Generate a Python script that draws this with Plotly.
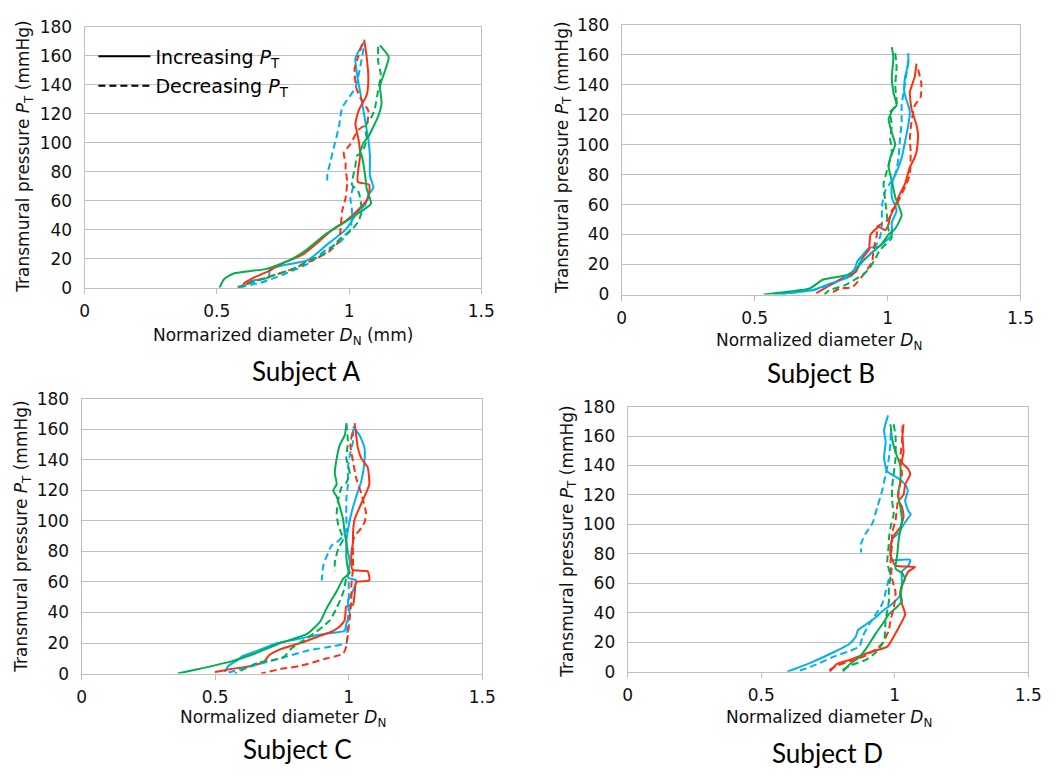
import plotly.graph_objects as go
from plotly.subplots import make_subplots

BLUE = "#00B0F0"
RED = "#FF3010"
GREEN = "#00B050"

# ---------------- Subject A ----------------
a_red_inc_dn = [0.597, 0.603, 0.64, 0.702, 0.751, 0.826, 0.887, 0.937, 0.987, 1.036, 1.073, 1.076, 1.033, 1.042, 1.042, 1.036, 1.024, 1.036, 1.067, 1.073, 1.066, 1.057]
a_red_inc_pt = [0, 3, 7, 12, 17, 23, 32, 40, 46, 54, 62, 71, 73, 91, 93, 102, 113, 122, 133, 144, 160, 171]
a_green_inc_dn = [0.51, 0.528, 0.566, 0.689, 0.776, 0.838, 0.912, 0.974, 1.024, 1.083, 1.067, 1.061, 1.048, 1.042, 1.055, 1.073, 1.092, 1.11, 1.123, 1.117, 1.135, 1.15, 1.117]
a_green_inc_pt = [0, 6, 10, 13, 19, 26, 37, 44, 50, 58, 68, 77, 91, 93, 100, 104, 111, 118, 127, 139, 149, 159, 167]
a_blue_inc_dn = [0.603, 0.628, 0.696, 0.702, 0.844, 0.912, 0.987, 1.036, 1.061, 1.073, 1.092, 1.079, 1.079, 1.073, 1.061, 1.046, 1.033, 1.024, 1.055]
a_blue_inc_pt = [1, 4.5, 7, 13, 19, 29, 40, 53, 57, 64, 69, 77, 91, 102, 115, 131, 144, 158, 169]
a_blue_dec_dn = [1.055, 1.04, 1.024, 0.974, 0.962, 0.947, 0.931, 0.918, 0.918, None, 1.017, 1.005, 1.011, 1.005, 0.962, 0.912, 0.85, 0.751, 0.665, 0.578]
a_blue_dec_pt = [165, 150, 138, 124, 111, 100, 88, 78, 72, None, 70, 62, 53, 40, 31, 26, 17, 9, 3.4, 0]
a_green_dec_dn = [1.11, 1.11, 1.12, 1.11, 1.098, 1.086, 1.061, 1.067, 1.048, 1.03, 1.024, 1.011, 1.036, 1.048, 1.036, 1.011, 0.974, 0.912, 0.85, 0.788, 0.689, 0.59, 0.566]
a_green_dec_pt = [166, 156, 147, 136, 124, 118, 111, 102, 93, 91, 84, 71, 66, 53, 46, 40, 35, 24, 19, 13, 7, 1, 0]
a_red_dec_dn = [1.05, 1.036, 1.021, 1.027, 1.048, 1.073, 1.067, 1.036, 1.005, 0.98, 0.987, 0.987, 0.993, 0.987, 0.974, 0.968, 0.962, 0.925, 0.863, 0.788, 0.689, 0.603, 0.58]
a_red_dec_pt = [168, 160, 151, 138, 129, 122, 113, 109, 99, 93, 86, 82, 73, 62, 53, 41, 32, 25, 19, 13, 7, 2, 0]

# ---------------- Subject B ----------------
b_green_inc_dn = [0.534, 0.584, 0.707, 0.757, 0.849, 0.88, 0.917, 0.942, 0.979, 1.004, 1.029, 1.053, 1.029, 1.016, 1.004, 1.01, 1.029, 1.016, 1.004, 1.022, 1.034, 1.022, 1.016, 1.022, 1.016]
b_green_inc_pt = [0, 1, 4, 10, 13, 17, 24, 28, 34, 40, 44, 53, 65, 76, 85, 91, 100, 108, 117, 124, 126, 135, 145, 158, 165]
b_blue_inc_dn = [0.571, 0.72, 0.781, 0.868, 0.886, 0.905, 0.93, 0.967, 1.016, 1.016, 1.034, 1.016, 1.016, 1.041, 1.053, 1.066, 1.078, 1.084, 1.063, 1.066, 1.078, 1.078]
b_blue_inc_pt = [0, 3, 7, 13, 22, 26, 31, 32, 40, 48, 56, 65, 74, 85, 91, 102, 113, 122, 135, 145, 154, 161]
b_red_inc_dn = [0.732, 0.781, 0.831, 0.88, 0.905, 0.93, 0.936, 0.967, 0.991, 1.004, 1.01, 1.029, 1.041, 1.066, 1.084, 1.096, 1.109, 1.115, 1.109, 1.09, 1.084, 1.102, 1.109]
b_red_inc_pt = [1, 6, 11, 15, 24, 30, 40, 45, 43, 47, 52, 59, 65, 74, 85, 89, 95, 106, 113, 124, 135, 145, 154]
b_green_dec_dn = [1.029, 1.034, 1.029, 1.034, 1.01, 1.016, 1.01, 1.016, 0.997, 0.985, 0.991, 0.997, 1.004, 1.016, 0.973, 0.954, 0.93, 0.905, 0.837, 0.781, 0.763]
b_green_dec_pt = [161, 152, 139, 126, 122, 113, 104, 95, 82, 74, 63, 54, 43, 38, 30, 24, 17, 13, 6, 3, 0]
b_blue_dec_dn = [1.078, 1.066, 1.053, 1.053, 1.047, 1.041, 1.029, 0.991, 0.979, 0.979, 0.973, 0.954, 0.93, 0.899, 0.868, 0.794, 0.72, 0.633, 0.6]
b_blue_dec_pt = [156, 141, 126, 115, 104, 91, 80, 69, 59, 48, 39, 32, 26, 22, 15, 7, 3, 1, 0]
b_red_dec_dn = [1.115, 1.127, 1.125, 1.102, 1.09, 1.084, 1.087, 1.084, 1.072, 1.053, 1.034, 1.016, 1.004, 0.96, 0.96, 0.948, 0.942, 0.917, 0.868, 0.819, 0.781]
b_red_dec_pt = [150, 141, 132, 126, 115, 104, 95, 80, 74, 67, 60, 56, 50, 45, 40, 31, 22, 15, 5, 4, 0]

# ---------------- Subject C ----------------
c_green_inc_dn = [0.36, 0.438, 0.561, 0.647, 0.745, 0.844, 0.893, 0.918, 0.955, 0.979, 1.004, 0.997, 0.991, 0.991, 0.985, 0.979, 0.967, 0.955, 0.942, 0.955, 0.948, 0.955, 0.967, 0.985, 0.991]
c_green_inc_pt = [0, 3, 8, 13, 20, 26, 34, 43, 54, 62, 66, 69, 77, 86, 92, 101, 109, 116, 120, 124, 131, 141, 150, 156, 163]
c_blue_inc_dn = [0.536, 0.549, 0.585, 0.598, 0.659, 0.733, 0.819, 0.905, 0.985, 0.991, 1.004, 0.997, 1.01, 1.028, 0.997, 1.004, 0.991, 0.997, 1.01, 1.028, 1.047, 1.059, 1.059, 1.041, 1.016]
c_blue_inc_pt = [1, 5, 9, 11, 15, 20, 23, 26, 28, 33, 38, 48, 52, 61, 63, 73, 86, 94, 105, 116, 126, 139, 148, 156, 162]
c_red_inc_dn = [0.499, 0.561, 0.635, 0.684, 0.702, 0.745, 0.819, 0.881, 0.942, 0.967, 0.985, 0.991, 1.016, 1.022, 1.028, 1.077, 1.071, 1.014, 1.01, 1.016, 1.016, 1.022, 1.041, 1.059, 1.077, 1.071, 1.047, 1.034, 1.028, 1.022]
c_red_inc_pt = [1, 3, 5, 8, 12, 16, 20, 24, 28, 31, 35, 44, 45, 52, 60, 61, 67, 68, 79, 86, 92, 101, 109, 116, 124, 135, 141, 148, 156, 164]
c_green_dec_dn = [0.991, 0.997, 0.991, 1.004, 0.991, 0.973, 0.961, 0.955, 0.961, 0.979, 0.961, 0.948, 0.948, None, 0.99, 0.979, 0.955, 0.93, 0.905, 0.868, 0.782, 0.758, 0.721, 0.659, 0.573]
c_green_dec_pt = [164, 152, 141, 131, 125, 122, 114, 105, 97, 88, 82, 73, 67, None, 62, 53, 43, 35, 31, 26, 16, 11, 9, 7, 0]
c_blue_dec_dn = [1.016, 1.016, 1.004, 0.997, 0.997, 0.991, 0.991, 0.991, 0.979, 0.955, 0.936, 0.918, 0.905, 0.899, None, 1.0, 1.0, 0.995, 0.991, 0.942, 0.844, 0.745, 0.659, 0.598, 0.536]
c_blue_dec_pt = [160, 152, 143, 135, 124, 114, 103, 94, 90, 86, 84, 77, 71, 61, None, 60, 45, 30, 20, 18, 15, 10, 6, 3, 0]
c_red_dec_dn = [1.014, 1.006, 1.016, 1.028, 1.047, 1.065, 1.059, 1.041, 1.022, 1.016, 1.016, 1.016, 1.01, 1.01, 1.004, 0.997, 0.991, 0.979, 0.918, 0.819, 0.745, 0.672]
c_red_dec_pt = [158, 150, 139, 128, 118, 105, 99, 94, 90, 86, 77, 69, 58, 48, 37, 26, 18, 13, 10, 5, 3, 0]

# ---------------- Subject D ----------------
d_blue_inc_dn = [0.598, 0.684, 0.769, 0.831, 0.855, 0.862, 0.892, 0.929, 0.953, 0.99, 1.021, 1.027, 1.027, 1.051, 1.058, 0.99, 0.984, 0.99, 1.015, 1.027, 1.045, 1.06, 1.051, 1.039, 1.049, 1.039, 1.015, 0.972, 0.96, 0.966, 0.96, 0.975]
d_blue_inc_pt = [0, 6, 13, 19, 24, 28, 32, 37, 41, 46, 52, 59, 68, 72, 76, 76, 83, 90, 94, 98, 103, 107, 109, 116, 123, 127, 131, 136, 145, 156, 164, 174]
d_red_inc_dn = [0.757, 0.782, 0.831, 0.904, 0.972, 1.003, 1.021, 1.039, 1.027, 1.021, 1.033, 1.051, 1.076, 1.003, 0.984, 0.99, 1.003, 1.021, 1.033, 1.027, 1.015, 1.033, 1.039, 1.058, 1.049, 1.027, 1.033, 1.029, 1.033]
d_red_inc_pt = [0, 5, 8, 13, 17, 26, 32, 39, 46, 54, 61, 68, 71, 72, 79, 90, 94, 98, 105, 112, 116, 120, 127, 134, 138, 142, 149, 160, 168]
d_green_inc_dn = [0.806, 0.831, 0.868, 0.898, 0.929, 0.953, 0.978, 1.003, 1.027, 1.021, 1.027, 1.039, 1.027, 1.003, 1.009, 1.015, 1.021, 1.027, 1.021, 1.012, 1.021, 1.021, 1.003, 0.99, 0.984]
d_green_inc_pt = [0, 5, 10, 17, 26, 32, 39, 43, 48, 53, 59, 63, 67, 70, 79, 90, 96, 103, 112, 120, 129, 140, 149, 158, 168]
d_blue_dec_dn = [0.985, 0.984, 0.978, 0.966, 0.953, 0.935, 0.917, 0.892, 0.874, 0.874, None, 0.99, 0.978, 0.966, 0.953, 0.929, 0.904, 0.88, 0.868, 0.831, 0.769, 0.708, 0.635]
d_blue_dec_pt = [162, 156, 145, 134, 123, 112, 101, 94, 87, 81, None, 70, 63, 54, 46, 39, 32, 24, 17, 14, 10, 5, 0]
d_green_dec_dn = [0.996, 1.003, 1.003, 0.996, 0.99, 0.99, 0.996, 0.984, 0.978, 0.978, 0.972, 0.984, 0.978, 0.978, 0.966, 0.96, 0.929, 0.892, 0.831, 0.794]
d_green_dec_pt = [168, 160, 145, 134, 125, 116, 107, 98, 90, 87, 74, 65, 57, 48, 35, 21, 13, 8, 4, 0]
d_red_dec_dn = [1.029, 1.027, 1.021, 1.027, 1.015, 1.009, 1.003, 0.99, 0.99, 0.984, 0.99, 1.003, 0.996, 0.984, 0.978, 0.953, 0.929, 0.88, 0.831, 0.782, 0.745]
d_red_dec_pt = [167, 156, 145, 134, 123, 112, 103, 94, 87, 74, 63, 54, 43, 35, 28, 19, 15, 10, 7, 4, 0]

x_ticks = [0, 0.5, 1, 1.5]
x_tick_text = ["0", "0.5", "1", "1.5"]
y_ticks = [0, 20, 40, 60, 80, 100, 120, 140, 160, 180]

panels = [
    (1, 1, [
        (a_blue_inc_dn, a_blue_inc_pt, BLUE, "solid"),
        (a_red_inc_dn, a_red_inc_pt, RED, "solid"),
        (a_green_inc_dn, a_green_inc_pt, GREEN, "solid"),
        (a_blue_dec_dn, a_blue_dec_pt, BLUE, "dash"),
        (a_red_dec_dn, a_red_dec_pt, RED, "dash"),
        (a_green_dec_dn, a_green_dec_pt, GREEN, "dash"),
    ]),
    (1, 2, [
        (b_blue_inc_dn, b_blue_inc_pt, BLUE, "solid"),
        (b_red_inc_dn, b_red_inc_pt, RED, "solid"),
        (b_green_inc_dn, b_green_inc_pt, GREEN, "solid"),
        (b_blue_dec_dn, b_blue_dec_pt, BLUE, "dash"),
        (b_red_dec_dn, b_red_dec_pt, RED, "dash"),
        (b_green_dec_dn, b_green_dec_pt, GREEN, "dash"),
    ]),
    (2, 1, [
        (c_blue_inc_dn, c_blue_inc_pt, BLUE, "solid"),
        (c_red_inc_dn, c_red_inc_pt, RED, "solid"),
        (c_green_inc_dn, c_green_inc_pt, GREEN, "solid"),
        (c_blue_dec_dn, c_blue_dec_pt, BLUE, "dash"),
        (c_red_dec_dn, c_red_dec_pt, RED, "dash"),
        (c_green_dec_dn, c_green_dec_pt, GREEN, "dash"),
    ]),
    (2, 2, [
        (d_blue_inc_dn, d_blue_inc_pt, BLUE, "solid"),
        (d_red_inc_dn, d_red_inc_pt, RED, "solid"),
        (d_green_inc_dn, d_green_inc_pt, GREEN, "solid"),
        (d_blue_dec_dn, d_blue_dec_pt, BLUE, "dash"),
        (d_red_dec_dn, d_red_dec_pt, RED, "dash"),
        (d_green_dec_dn, d_green_dec_pt, GREEN, "dash"),
    ]),
]

W, H = 1059, 782
fig = make_subplots(rows=2, cols=2)

for row, col, curves in panels:
    for dn, pt, color, dash in curves:
        fig.add_trace(
            go.Scatter(
                x=dn, y=pt, mode="lines",
                line=dict(color=color, width=2, dash="7px,4px" if dash == "dash" else "solid",
                          shape="spline", smoothing=0.5),
                connectgaps=False, showlegend=False, hoverinfo="skip",
            ),
            row=row, col=col,
        )

# legend entries for the line styles
fig.add_trace(go.Scatter(x=[None], y=[None], mode="lines", line=dict(color="black", width=2),
                         name="Increasing <i>P</i><sub>T</sub>", legendgroup="inc"), row=1, col=1)
fig.add_trace(go.Scatter(x=[None], y=[None], mode="lines", line=dict(color="black", width=2, dash="7px,4px"),
                         name="Decreasing <i>P</i><sub>T</sub>", legendgroup="dec"), row=1, col=1)

# panel placement in pixels: (left, right, top, bottom)
boxes = {
    1: (81, 485, 17, 285),
    2: (628, 1034, 15, 292),
    3: (78, 486, 399, 681),
    4: (634, 1042, 407, 679),
}
TICK_FONT = dict(family="DejaVu Sans", size=17, color="#111111")
GRID = "#BFBFBF"
for i, (l, r, t, b) in boxes.items():
    sfx = "" if i == 1 else str(i)
    fig.layout["xaxis" + sfx].update(
        domain=[l / W, r / W], range=[0, 1.5], tickvals=x_ticks, ticktext=x_tick_text,
        showgrid=False, zeroline=False, showline=True, linecolor=GRID, linewidth=1, mirror=True,
        ticks="outside", ticklen=5, tickcolor=GRID, tickfont=TICK_FONT, ticklabelstandoff=3,
    )
    fig.layout["yaxis" + sfx].update(
        domain=[1 - b / H, 1 - t / H], range=[0, 180], tickvals=y_ticks,
        showgrid=True, gridcolor=GRID, gridwidth=1, zeroline=False, showline=True,
        linecolor=GRID, linewidth=1, mirror=True, ticks="", tickfont=TICK_FONT, ticklabelstandoff=8,
    )

LABEL_FONT = dict(family="DejaVu Sans", size=17, color="#111111")
TITLE_FONT = dict(family="Lato", size=26, color="#000000")
ann = []
x_titles = [
    (283, 335, "Normarized diameter <i>D</i><sub>N</sub> (mm)"),
    (829, 340, "Normalized diameter <i>D</i><sub>N</sub>"),
    (283, 727, "Normalized diameter <i>D</i><sub>N</sub>"),
    (839, 727, "Normalized diameter <i>D</i><sub>N</sub>"),
]
for x, y, txt in x_titles:
    ann.append(dict(x=x / W, y=1 - y / H, xref="paper", yref="paper", text=txt, showarrow=False,
                    font=LABEL_FONT, xanchor="center", yanchor="middle"))
y_titles = [(20, 150), (568, 151), (18, 540), (573, 545)]
for x, y in y_titles:
    ann.append(dict(x=x / W, y=1 - y / H, xref="paper", yref="paper",
                    text="Transmural pressure <i>P</i><sub>T</sub> (mmHg)", showarrow=False,
                    textangle=-90, font=LABEL_FONT, xanchor="center", yanchor="middle"))
subjects = [(306, 370, "Subject A"), (831, 373, "Subject B"), (298, 758, "Subject C"), (838, 762, "Subject D")]
for x, y, txt in subjects:
    ann.append(dict(x=x / W, y=1 - y / H, xref="paper", yref="paper", text=txt, showarrow=False,
                    font=TITLE_FONT, xanchor="center", yanchor="middle"))

fig.update_layout(
    width=W, height=H, margin=dict(l=0, r=0, t=0, b=0),
    paper_bgcolor="white", plot_bgcolor="white",
    annotations=ann,
    showlegend=True,
    legend=dict(x=90 / W, y=1 - 28 / H, xanchor="left", yanchor="top",
                bgcolor="rgba(0,0,0,0)", font=dict(family="DejaVu Sans", size=19, color="#000000"),
                itemwidth=52, tracegroupgap=2),
)

fig.write_html("out.html")
